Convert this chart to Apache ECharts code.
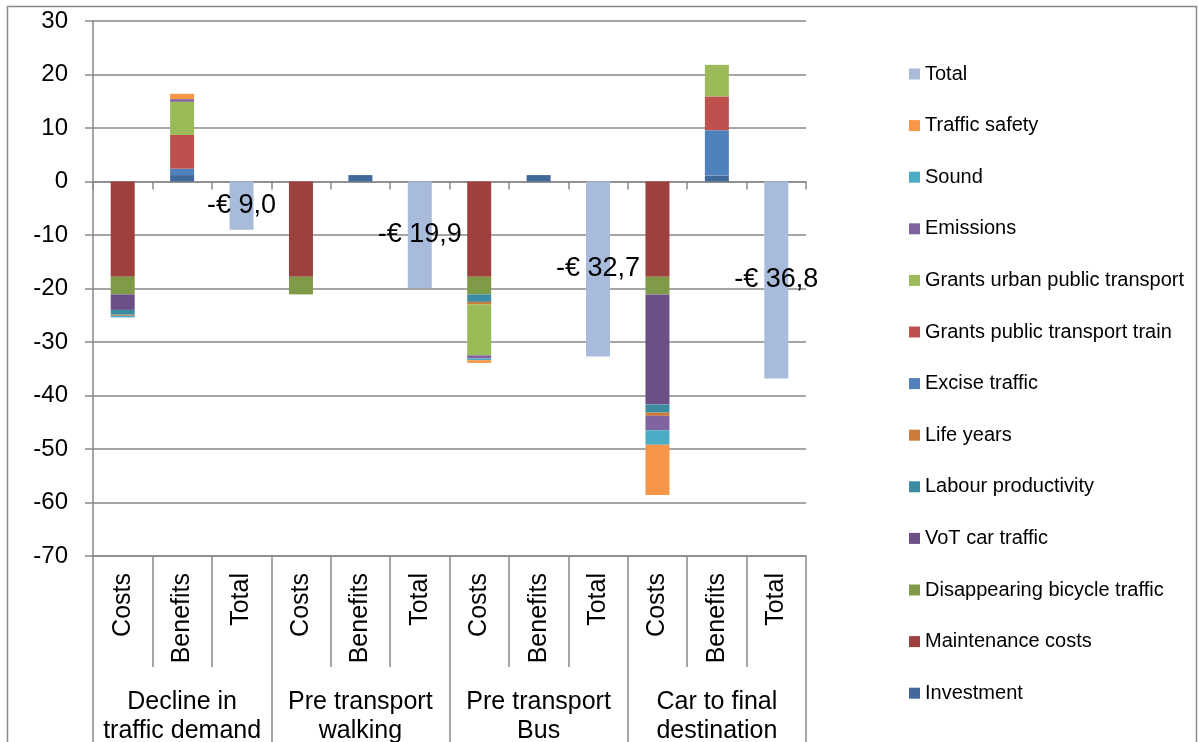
<!DOCTYPE html>
<html>
<head>
<meta charset="utf-8">
<script src="https://cdn.jsdelivr.net/npm/echarts@6/dist/echarts.min.js"></script>
<style>
html,body{margin:0;padding:0;background:#fff;}
#c{width:1198px;height:742px;}
</style>
</head>
<body>
<div id="c"></div>
<script>
// Sub-categories (12 bars) and the 4 groups
const subCategories = ['Costs','Benefits','Total','Costs','Benefits','Total','Costs','Benefits','Total','Costs','Benefits','Total'];
const groups = ['Decline in\ntraffic demand', 'Pre transport\nwalking', 'Pre transport\nBus', 'Car to final\ndestination'];

// Series values (million euro), order: G1 C/B/T, G2 C/B/T, G3 C/B/T, G4 C/B/T
const investment          = [0, 1.2, 0,   0, 1.2, 0,   0, 1.2, 0,   0, 1.1, 0];
const maintenanceCosts    = [-17.8, 0, 0, -17.8, 0, 0, -17.8, 0, 0, -17.8, 0, 0];
const bicycleTraffic      = [-3.3, 0, 0,  -3.3, 0, 0,  -3.3, 0, 0,  -3.3, 0, 0];
const votCarTraffic       = [-2.9, 0, 0,   0, 0, 0,    0, 0, 0,   -20.6, 0, 0];
const labourProductivity  = [-0.9, 0, 0,   0, 0, 0,   -1.4, 0, 0,  -1.5, 0, 0];
const lifeYears           = [-0.2, 0, 0,   0, 0, 0,   -0.5, 0, 0,  -0.6, 0, 0];
const exciseTraffic       = [0, 1.2, 0,    0, 0, 0,    0, 0, 0,    0, 8.5, 0];
const grantsTrain         = [0, 6.3, 0,    0, 0, 0,    0, 0, 0,    0, 6.3, 0];
const grantsUrban         = [0, 6.2, 0,    0, 0, 0,   -9.5, 0, 0,  0, 5.9, 0];
const emissions           = [0, 0.5, 0,    0, 0, 0,   -0.6, 0, 0, -2.7, 0, 0];
const sound               = [-0.3, 0, 0,   0, 0, 0,   -0.3, 0, 0, -2.7, 0, 0];
const trafficSafety       = [0, 1.0, 0,    0, 0, 0,   -0.5, 0, 0, -9.4, 0, 0];
const total               = [null, null, -9.0, null, null, -19.9, null, null, -32.7, null, null, -36.8];

// Y axis ticks
const yMin = -70, yMax = 30, yStep = 10;

const seriesDefs = [
  ['Investment', investment, '#41699C'],
  ['Maintenance costs', maintenanceCosts, '#9E413E'],
  ['Disappearing bicycle traffic', bicycleTraffic, '#7F9B48'],
  ['VoT car traffic', votCarTraffic, '#6A5087'],
  ['Labour productivity', labourProductivity, '#3B8CA3'],
  ['Life years', lifeYears, '#CD7B38'],
  ['Excise traffic', exciseTraffic, '#4F81BD'],
  ['Grants public transport train', grantsTrain, '#C0504D'],
  ['Grants urban public transport', grantsUrban, '#9BBB59'],
  ['Emissions', emissions, '#8064A2'],
  ['Sound', sound, '#4BACC6'],
  ['Traffic safety', trafficSafety, '#F79646'],
  ['Total', total, '#A9BBDB']
];

const FONT = 'Liberation Sans';
const GRAY = '#898989';

const series = seriesDefs.map(([name, data, color]) => {
  const s = {
    name: name, type: 'bar', stack: 'all', data: data,
    xAxisIndex: 0, barWidth: 24,
    itemStyle: { color: color },
    emphasis: { disabled: true }
  };
  if (name === 'Total') {
    s.label = {
      show: true, position: 'inside', color: '#000', fontSize: 27, fontFamily: FONT,
      textBorderWidth: 0,
      formatter: p => (p.value < 0 ? '-€ ' : '€ ') + Math.abs(p.value).toFixed(1).replace('.', ',')
    };
  }
  return s;
});

const chart = echarts.init(document.getElementById('c'), null, { renderer: 'canvas' });
chart.setOption({
  animation: false,
  backgroundColor: '#fff',
  textStyle: { fontFamily: FONT },
  grid: { left: 93, right: 392, top: 21, bottom: 186, containLabel: false, outerBoundsMode: 'none' },
  legend: {
    orient: 'vertical', left: 904, top: 59,
    itemWidth: 11, itemHeight: 11, itemGap: 31.6, icon: 'rect',
    textStyle: { fontSize: 20, color: '#000', fontFamily: FONT },
    data: seriesDefs.map(d => d[0]).reverse()
  },
  xAxis: [
    {
      type: 'category', data: subCategories, position: 'bottom',
      axisLine: { onZero: true, lineStyle: { color: GRAY, width: 1.5 } },
      axisTick: { show: true, interval: 0, length: 8, lineStyle: { color: GRAY, width: 1.5 } },
      axisLabel: { show: false }
    },
    {
      type: 'category', data: subCategories, position: 'bottom',
      axisLine: { onZero: false, lineStyle: { color: GRAY, width: 1.5 } },
      axisTick: { show: true, interval: 0, length: 111, lineStyle: { color: GRAY, width: 1.5 } },
      axisLabel: { show: true, interval: 0, rotate: 90, margin: 17, fontSize: 25, color: '#000', fontFamily: FONT }
    },
    {
      type: 'category', data: groups, position: 'bottom',
      axisLine: { show: false, onZero: false },
      axisTick: { show: true, interval: 0, length: 190, lineStyle: { color: GRAY, width: 1.5 } },
      axisLabel: { show: true, interval: 0, margin: 132, fontSize: 25, lineHeight: 29, color: '#000', fontFamily: FONT, align: 'center' }
    }
  ],
  yAxis: {
    type: 'value', min: yMin, max: yMax, interval: yStep,
    axisLine: { show: true, lineStyle: { color: GRAY, width: 1.5 } },
    axisTick: { show: true, length: 8, lineStyle: { color: GRAY, width: 1.5 } },
    axisLabel: { fontSize: 24, color: '#000', margin: 25, fontFamily: FONT },
    splitLine: { lineStyle: { color: GRAY, width: 1.5 } }
  },
  graphic: [
    { type: 'rect', z: -10, silent: true, shape: { x: 7.5, y: 6.5, width: 1189, height: 800 },
      style: { fill: 'none', stroke: GRAY, lineWidth: 1.5 } }
  ],
  series: series
});
</script>
</body>
</html>
